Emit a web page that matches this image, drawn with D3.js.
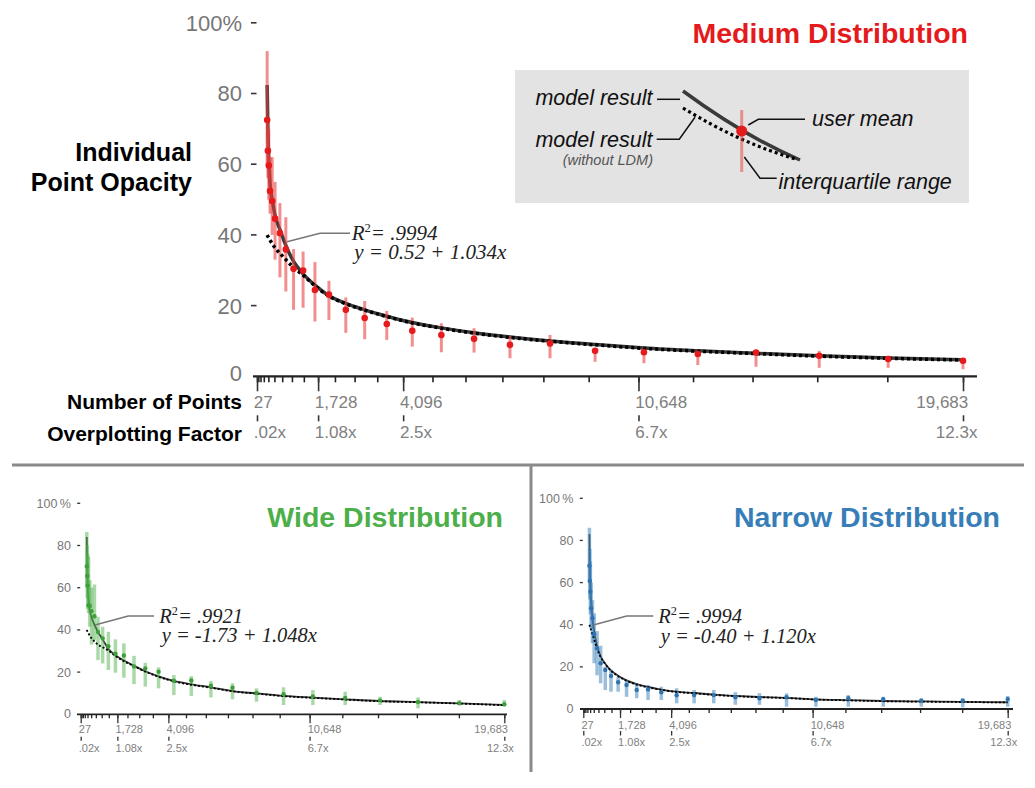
<!DOCTYPE html>
<html>
<head>
<meta charset="utf-8">
<script src="https://cdnjs.cloudflare.com/ajax/libs/d3/7.8.5/d3.min.js"></script>
<style>
  body { margin: 0; background: #fff; }
  svg { display: block; font-family: "Liberation Sans", Arial, Helvetica, sans-serif; }
  .serif { font-family: "Liberation Serif", "Times New Roman", serif; font-style: italic; }
</style>
</head>
<body>
<svg id="chart" width="1035" height="788"></svg>
<script>
// x position (number of points) of every measured condition
const pointCounts = [310, 330, 355, 390, 450, 530, 665, 830, 1045, 1310, 1640, 2030, 2500, 3025, 3640,
    4350, 5160, 6070, 7070, 8185, 9440, 10800, 12300, 13920, 15680, 17600, 19683];

const axisTicks = [27, 64, 125, 216, 343, 512, 729, 1000, 1331, 1728, 2197, 2744, 3375, 4096, 4913,
    5832, 6859, 8000, 9261, 10648, 12167, 13824, 15625, 17576, 19683];
const labelTicks = [27, 1728, 4096, 10648, 19683];
const pointLabels = ["27", "1,728", "4,096", "10,648", "19,683"];
const factorLabels = [".02x", "1.08x", "2.5x", "6.7x", "12.3x"];
const opacityTicks = [0, 20, 40, 60, 80, 100];

// medium distribution
const mediumMean = [72.5, 63.8, 59.6, 52.4, 49.6, 44.6, 40.5, 35.9, 30.4, 29.9, 24.4, 23.1, 18.8, 16.5, 14.8,
    12.9, 11.7, 10.6, 8.9, 9.3, 7.2, 6.8, 6.3, 6.7, 5.8, 4.9, 4.4];
const mediumLow = [60, 56, 50, 46, 40, 33, 28, 24, 18.8, 19.4, 15.5, 15.9, 12.3, 10.5, 10.3,
    8.4, 6.8, 6.7, 5.1, 5.1, 4.1, 3.7, 3.2, 2.7, 2.4, 2.4, 2.0];
const mediumHigh = [92, 72, 70, 62, 62, 55, 49, 45, 36, 35.3, 32.3, 27, 22.3, 21.3, 18.5,
    16.6, 15, 13.6, 11.4, 11.7, 7.9, 8.4, 7.6, 7.2, 7.2, 5.8, 5.1];
const mediumModel = [82.4, 70, 61, 54.5, 50, 45.5, 41.5, 37, 32.5, 29, 25.8, 22.8, 20.6, 18.8, 17,
    15.2, 13.7, 12.3, 11.1, 10, 9, 8, 7.2, 6.5, 5.8, 5.2, 4.7];
const mediumNoLdm = [40, 39.6, 39.2, 38.5, 37.5, 36.3, 34.8, 33, 30.8, 28.6, 25.6, 22.7, 20.5, 18.7, 16.9,
    15.1, 13.6, 12.2, 11, 9.9, 8.9, 7.9, 7.1, 6.4, 5.7, 5.1, 4.6];

// wide distribution
const wideMean = [70.2, 65.6, 61, 51.7, 51.3, 48.9, 46.5, 39, 36, 32.3, 28.7, 27.9, 22.7, 21.7, 20.2,
    15.9, 16, 13.5, 12.6, 10.1, 9.5, 8.5, 7.8, 6.6, 5.8, 5.3, 4.8];
const wideLow = [60, 55, 50, 48, 41.5, 33, 35.2, 25.7, 24.1, 21, 19.7, 17.3, 14.3, 13.1, 12.3,
    9.1, 8.7, 8, 7.1, 6, 4.4, 4.4, 4.4, 4.4, 2.8, 4.1, 3.6];
const wideHigh = [86.4, 80, 76, 74.6, 63.6, 60, 61.5, 46.2, 41.5, 39.1, 35.5, 33.6, 27.7, 24.4, 22.2,
    18.6, 18.1, 15.8, 14.7, 12.3, 12.8, 11.5, 10.7, 8.3, 8, 6.8, 6.8];
const wideModel = [84, 68, 60, 53.5, 49, 46, 42.5, 39, 35.5, 31, 28, 25.5, 23, 20.4, 18,
    15.8, 14.2, 12.8, 11, 9.9, 8.7, 7.9, 7.1, 6.3, 5.8, 5.2, 4.4];
const wideNoLdm = [40, 39.5, 39, 38.3, 37.3, 36, 34.5, 33, 31.8, 30.2, 27.6, 25.2, 22.8, 20.2, 17.8,
    15.6, 14, 12.6, 10.9, 9.8, 8.6, 7.8, 7, 6.2, 5.7, 5.1, 4.3];

// narrow distribution
const narrowMean = [68, 60.8, 55.7, 47.8, 43.1, 35.5, 28.8, 21.7, 18.5, 15.7, 12.7, 11.4, 9.0, 9.3, 7.9,
    6.5, 6.6, 6.6, 5.6, 5.1, 5.6, 4.3, 5.1, 4.7, 3.9, 3.9, 4.7];
const narrowLow = [60, 52, 45, 38, 31.2, 21.7, 16, 12.2, 9, 8.2, 8.2, 5.8, 5.1, 4.3, 4.3,
    2.7, 2.7, 2.7, 2, 2, 1.1, 1.1, 1.1, 1.1, 1.1, 0.8, 1.1];
const narrowHigh = [86, 76, 70, 60, 51.7, 45.4, 37, 30, 20.1, 18.5, 15.3, 13.8, 12.2, 11.4, 10.6,
    9.8, 9.0, 9.0, 8, 7.5, 7.4, 5.8, 6.6, 5.8, 5.1, 5.1, 6.2];
const narrowModel = [83, 68, 58, 51, 43, 37, 30, 25, 21.5, 18.3, 15.8, 13.6, 11.8, 10.5, 9.2,
    8.2, 7.6, 6.8, 6.2, 5.7, 5.3, 4.6, 4.2, 3.8, 3.6, 3.4, 3.2];
const narrowNoLdm = [40, 39.3, 38.5, 37.5, 35.5, 33, 28.5, 24.6, 21.3, 18.1, 15.6, 13.4, 11.6, 10.3, 9.1,
    8.1, 7.5, 6.7, 6.1, 5.6, 5.2, 4.5, 4.1, 3.7, 3.5, 3.3, 3.1];

const svg = d3.select('#chart');

function drawPanel(p) {
    let x = d3.scaleLinear().domain([27, 19683]).range([p.x0, p.x1]);
    let y = d3.scaleLinear().domain([0, 100]).range([p.yZero, p.yTop]);
    let g = svg.append('g');

    // y axis: little dashes and grey numbers, no axis line
    opacityTicks.forEach(v => {
        if (v > 0) {
            g.append('line')
                .attr('x1', p.x0 - p.dashLen).attr('x2', p.x0 - 0.5)
                .attr('y1', y(v)).attr('y2', y(v))
                .attr('stroke', '#333').attr('stroke-width', p.tickW);
        }
        g.append('text')
            .attr('x', p.yLabelX)
            .attr('y', y(v) - (v === 0 ? p.zeroLift : 0))
            .attr('dy', '0.36em')
            .attr('text-anchor', 'end')
            .attr('fill', '#777')
            .style('font-size', p.yFont + 'px')
            .text(v === 100 ? '100' + p.pct : v);
    });

    // x axis
    g.append('line')
        .attr('x1', p.axisX0).attr('x2', p.axisX1)
        .attr('y1', p.yZero).attr('y2', p.yZero)
        .attr('stroke', '#222').attr('stroke-width', p.axisW);

    let minor = g.append('g')
        .attr('transform', `translate(0,${p.yZero})`)
        .call(d3.axisBottom(x).tickValues(axisTicks).tickSize(p.minorLen).tickFormat(''));
    minor.select('.domain').remove();
    minor.selectAll('line').attr('stroke', '#222').attr('stroke-width', p.tickW);

    let major = g.append('g')
        .attr('transform', `translate(0,${p.yZero})`)
        .call(d3.axisBottom(x).tickValues(labelTicks).tickSize(p.majorLen).tickFormat((d, i) => pointLabels[i]));
    major.select('.domain').remove();
    major.selectAll('line').attr('stroke', '#333').attr('stroke-width', p.tickW);

    let factor = g.append('g')
        .attr('transform', `translate(0,${p.yZero + p.row2TickTop})`)
        .call(d3.axisBottom(x).tickValues(labelTicks).tickSize(p.row2TickLen).tickFormat((d, i) => factorLabels[i]));
    factor.select('.domain').remove();
    factor.selectAll('line').attr('stroke', '#333').attr('stroke-width', p.tickW);

    [[major, p.row1], [factor, p.row2 - p.row2TickTop]].forEach(([ax, ty]) => {
        ax.selectAll('text')
            .attr('y', ty).attr('dy', null)
            .attr('x', -0.22 * p.xFont)
            .attr('text-anchor', 'start')
            .attr('fill', '#808080')
            .style('font-size', p.xFont + 'px')
            .style('font-family', '"Liberation Sans", Arial, sans-serif');
    });
    major.selectAll('.tick:last-of-type text').attr('text-anchor', 'end').attr('x', 0.28 * p.xFont);
    factor.selectAll('.tick:last-of-type text').attr('text-anchor', 'end').attr('x', 0.82 * p.xFont);

    // data
    let rows = pointCounts.map((n, i) => ({
        n: n, mean: p.mean[i], lo: p.low[i], hi: p.high[i], fit: p.fit[i], base: p.base[i]
    }));
    let line = key => d3.line()
        .x(d => x(d.n))
        .y(d => y(d[key]))
        .curve(d3.curveMonotoneX);

    g.append('path')
        .datum(rows)
        .attr('d', line('fit'))
        .attr('fill', 'none')
        .attr('stroke', '#3a3a3a')
        .attr('stroke-width', p.lineW);

    g.selectAll('.iqr')
        .data(rows)
        .enter()
        .append('line')
        .attr('class', 'iqr')
        .attr('x1', d => x(d.n)).attr('x2', d => x(d.n))
        .attr('y1', d => y(d.lo)).attr('y2', d => y(d.hi))
        .attr('stroke', p.barColor)
        .attr('stroke-width', p.barW);

    g.append('path')
        .datum(rows)
        .attr('d', line('base'))
        .attr('fill', 'none')
        .attr('stroke', '#000')
        .attr('stroke-width', p.lineW)
        .attr('stroke-dasharray', p.dots);

    g.selectAll('.mean')
        .data(rows)
        .enter()
        .append('circle')
        .attr('class', 'mean')
        .attr('cx', d => x(d.n))
        .attr('cy', d => y(d.mean))
        .attr('r', p.dotR)
        .attr('fill', p.color);

    // fit annotation
    g.append('path')
        .attr('d', d3.line()(p.leader))
        .attr('fill', 'none')
        .attr('stroke', '#777')
        .attr('stroke-width', 1.5);

    let r2 = g.append('text')
        .attr('class', 'serif')
        .attr('x', p.r2[0]).attr('y', p.r2[1])
        .attr('fill', '#222')
        .style('font-size', p.annFont + 'px');
    r2.append('tspan').text('R');
    r2.append('tspan').attr('dy', -0.4 * p.annFont).style('font-size', (p.annFont * 0.6) + 'px').style('font-style', 'normal').text('2');
    r2.append('tspan').attr('dy', 0.4 * p.annFont).text('= ' + p.r2Text);

    g.append('text')
        .attr('class', 'serif')
        .attr('x', p.eq[0]).attr('y', p.eq[1])
        .attr('fill', '#222')
        .style('font-size', p.annFont + 'px')
        .text(p.eqText);

    // title
    g.append('text')
        .attr('x', p.title[0]).attr('y', p.title[1])
        .attr('text-anchor', 'end')
        .attr('fill', p.titleColor)
        .style('font-size', '28.5px')
        .style('font-weight', 'bold')
        .text(p.titleText);
}

drawPanel({
    x0: 257, x1: 963, yZero: 376.3, yTop: 22.8,
    axisX0: 253, axisX1: 977, axisW: 2.2, tickW: 1.6,
    dashLen: 6, yLabelX: 242, yFont: 22, zeroLift: 3, pct: '%',
    xFont: 17, row1: 32, row2: 62, majorLen: 15, minorLen: 6, row2TickTop: 39, row2TickLen: 6,
    lineW: 3.5, dots: '3,3', barW: 3, dotR: 3.3,
    color: '#e41a1c', barColor: 'rgba(234,60,60,0.58)',
    mean: mediumMean, low: mediumLow, high: mediumHigh, fit: mediumModel, base: mediumNoLdm,
    leader: [[287, 241.7], [320, 233.3], [350, 233.3]],
    annFont: 21, r2: [351.7, 240], r2Text: '.9994', eq: [354.3, 258.5], eqText: 'y = 0.52 + 1.034x',
    title: [968, 43], titleColor: '#e41a1c', titleText: 'Medium Distribution'
});

drawPanel({
    x0: 80.7, x1: 504.3, yZero: 714.3, yTop: 503.3,
    axisX0: 77, axisX1: 507, axisW: 1.8, tickW: 1.3,
    dashLen: 3.5, yLabelX: 71, yFont: 12.5, zeroLift: 1, pct: '\u2009%',
    xFont: 11, row1: 19, row2: 37.5, majorLen: 9, minorLen: 4, row2TickTop: 22.5, row2TickLen: 4,
    lineW: 1.8, dots: '2,2', barW: 3.5, dotR: 2.2,
    color: '#3f9f3c', barColor: 'rgba(77,175,74,0.48)',
    mean: wideMean, low: wideLow, high: wideHigh, fit: wideModel, base: wideNoLdm,
    leader: [[95, 625], [128.3, 616], [154, 616]],
    annFont: 20.5, r2: [159.3, 622.7], r2Text: '.9921', eq: [161.7, 642], eqText: 'y = -1.73 + 1.048x',
    title: [503, 527], titleColor: '#4daf4a', titleText: 'Wide Distribution'
});

drawPanel({
    x0: 583.3, x1: 1007.7, yZero: 709, yTop: 498.3,
    axisX0: 580, axisX1: 1013, axisW: 1.8, tickW: 1.3,
    dashLen: 3.5, yLabelX: 573.5, yFont: 12.5, zeroLift: 1, pct: '\u2009%',
    xFont: 11, row1: 19.5, row2: 37, majorLen: 9, minorLen: 4, row2TickTop: 22, row2TickLen: 4.5,
    lineW: 1.8, dots: '2,2', barW: 3.5, dotR: 2.2,
    color: '#2f74b0', barColor: 'rgba(55,126,184,0.5)',
    mean: narrowMean, low: narrowLow, high: narrowHigh, fit: narrowModel, base: narrowNoLdm,
    leader: [[593.3, 625], [626.7, 616], [653.3, 616]],
    annFont: 20.5, r2: [658.3, 623.3], r2Text: '.9994', eq: [660.7, 643], eqText: 'y = -0.40 + 1.120x',
    title: [1000, 527], titleColor: '#377eb8', titleText: 'Narrow Distribution'
});

// axis titles of the main panel
let yTitle = svg.append('text')
    .attr('text-anchor', 'end')
    .style('font-size', '25px')
    .style('font-weight', 'bold');
yTitle.append('tspan').attr('x', 192).attr('y', 160.5).text('Individual');
yTitle.append('tspan').attr('x', 192).attr('y', 191).text('Point Opacity');

svg.append('text')
    .attr('x', 242).attr('y', 408.5)
    .attr('text-anchor', 'end')
    .style('font-size', '21px').style('font-weight', 'bold')
    .text('Number of Points');
svg.append('text')
    .attr('x', 242).attr('y', 441)
    .attr('text-anchor', 'end')
    .style('font-size', '21px').style('font-weight', 'bold')
    .text('Overplotting Factor');

// panel separators
svg.append('line')
    .attr('x1', 12).attr('x2', 1024).attr('y1', 465).attr('y2', 465)
    .attr('stroke', '#8a8a8a').attr('stroke-width', 3);
svg.append('line')
    .attr('x1', 531).attr('x2', 531).attr('y1', 465).attr('y2', 772)
    .attr('stroke', '#8a8a8a').attr('stroke-width', 3);

// legend
let legend = svg.append('g');
legend.append('rect')
    .attr('x', 515).attr('y', 70).attr('width', 454).attr('height', 133)
    .attr('fill', '#e3e3e3');

let connectors = [
    [[657, 99.3], [680, 99.3]],
    [[656.7, 139.3], [679.3, 139.3], [695, 117.3]],
    [[748.3, 125], [758.3, 119.3], [805, 119.3]],
    [[744.3, 157], [760, 178.3], [776.7, 178.3]]
];
connectors.forEach(c => {
    legend.append('path')
        .attr('d', d3.line()(c))
        .attr('fill', 'none')
        .attr('stroke', '#111')
        .attr('stroke-width', 1.5);
});

legend.append('path')
    .attr('d', 'M683,91 Q744,136 800,160')
    .attr('fill', 'none').attr('stroke', '#3a3a3a').attr('stroke-width', 3.5);
legend.append('path')
    .attr('d', 'M683,108 Q740,143 797,159.5')
    .attr('fill', 'none').attr('stroke', '#000').attr('stroke-width', 3.2)
    .attr('stroke-dasharray', '3,3');
legend.append('line')
    .attr('x1', 741.7).attr('x2', 741.7).attr('y1', 110).attr('y2', 172)
    .attr('stroke', 'rgba(234,60,60,0.5)').attr('stroke-width', 3);
legend.append('circle')
    .attr('cx', 741.7).attr('cy', 131).attr('r', 5.5)
    .attr('fill', '#e41a1c');

let legendText = [
    { x: 652.5, y: 105, anchor: 'end', size: 21.5, fill: '#111', text: 'model result' },
    { x: 652.5, y: 147, anchor: 'end', size: 21.5, fill: '#111', text: 'model result' },
    { x: 653, y: 164.5, anchor: 'end', size: 14.5, fill: '#555', text: '(without LDM)' },
    { x: 812, y: 125.5, anchor: 'start', size: 21.5, fill: '#111', text: 'user mean' },
    { x: 778.5, y: 188.5, anchor: 'start', size: 21.5, fill: '#111', text: 'interquartile range' }
];
legend.selectAll('.ltext')
    .data(legendText)
    .enter()
    .append('text')
    .attr('x', d => d.x).attr('y', d => d.y)
    .attr('text-anchor', d => d.anchor)
    .attr('fill', d => d.fill)
    .style('font-size', d => d.size + 'px')
    .style('font-style', 'italic')
    .text(d => d.text);
</script>
</body>
</html>
